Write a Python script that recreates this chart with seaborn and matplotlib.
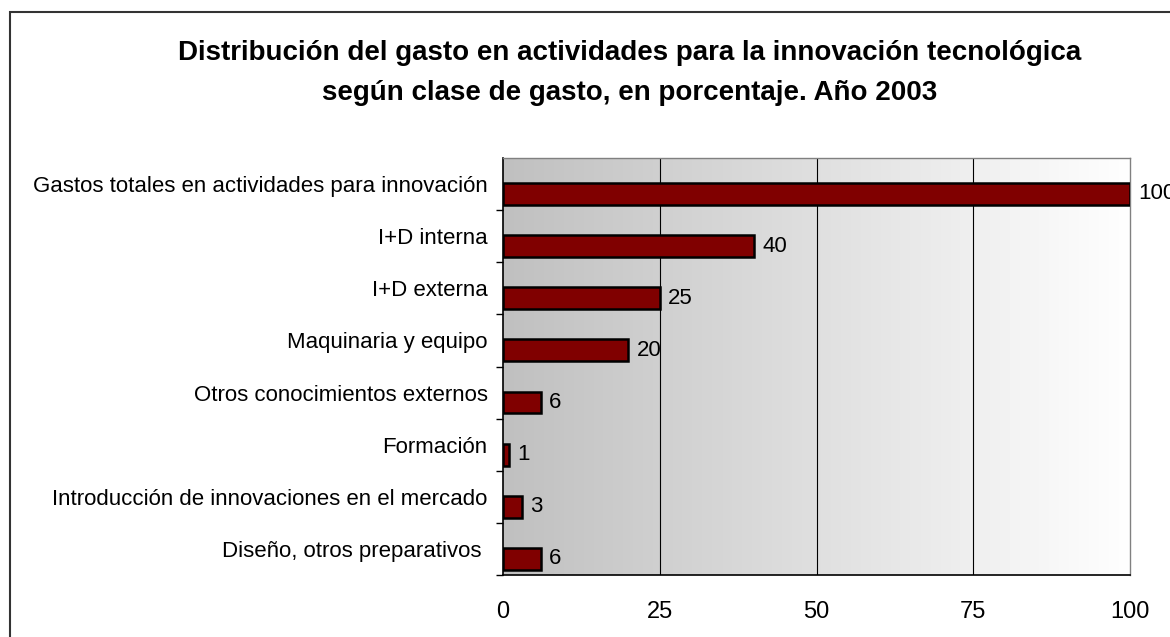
import numpy as np
import pandas as pd
import matplotlib.pyplot as plt
from matplotlib.patches import Rectangle
import seaborn as sns

# datos
categorias = [
    'Gastos totales en actividades para innovación',
    'I+D interna',
    'I+D externa',
    'Maquinaria y equipo',
    'Otros conocimientos externos',
    'Formación',
    'Introducción de innovaciones en el mercado',
    'Diseño, otros preparativos ',
]
porcentajes = [100, 40, 25, 20, 6, 1, 3, 6]
ticks_x = [0, 25, 50, 75, 100]
titulo_1 = 'Distribución del gasto en actividades para la innovación tecnológica'
titulo_2 = 'según clase de gasto, en porcentaje. Año 2003'

df = pd.DataFrame({'categoria': categorias, 'porcentaje': porcentajes})

# estilo
sns.set_theme(style='white')
plt.rcParams['font.family'] = ['Liberation Sans', 'DejaVu Sans']
plt.rcParams['text.color'] = 'black'
plt.rcParams['xtick.color'] = 'black'
plt.rcParams['ytick.color'] = 'black'

fig = plt.figure(figsize=(11.7, 6.37), dpi=100)
ax = fig.add_axes([503 / 1170, 1 - 575 / 637, 627 / 1170, 417 / 637])

sns.barplot(
    data=df, x='porcentaje', y='categoria', orient='h',
    color='#800000', edgecolor='black', linewidth=1.8,
    width=0.42, saturation=1, ax=ax, zorder=3
)

# fondo degradado
grad = np.linspace(0, 1, 256).reshape(1, -1)
ax.imshow(grad, cmap=sns.blend_palette(['#c0c0c0', '#ffffff'], as_cmap=True),
          extent=[0, 100, 7.31, -0.69], aspect='auto', zorder=0)

ax.set_xlim(0, 100)
ax.set_ylim(7.31, -0.69)

# lineas de rejilla verticales
for v in ticks_x[1:-1]:
    ax.axvline(v, color='black', lw=0.8, zorder=1)

# etiquetas de datos
for i, v in enumerate(porcentajes):
    ax.annotate(str(v), (v, i), xytext=(6, 0), textcoords='offset points',
                ha='left', va='center', fontsize=16, color='black',
                annotation_clip=False)

# ejes
ax.set_yticks([i - 0.19 for i in range(len(categorias))])
ax.set_yticklabels(categorias, fontsize=16)
ax.set_yticks([i + 0.31 for i in range(len(categorias))], minor=True)
ax.tick_params(axis='y', which='major', length=0, pad=11)
ax.tick_params(axis='y', which='minor', length=5, width=1, color='black', left=True)
ax.set_xticks(ticks_x)
ax.set_xticklabels([str(t) for t in ticks_x], fontsize=17)
ax.tick_params(axis='x', length=0, pad=19)
ax.set_xlabel('')
ax.set_ylabel('')

for s in ['left', 'bottom']:
    ax.spines[s].set_color('black')
    ax.spines[s].set_linewidth(1.2)
for s in ['top', 'right']:
    ax.spines[s].set_color('#808080')
    ax.spines[s].set_linewidth(1)

# titulo
fig.text(630 / 1170, 1 - 53 / 637, titulo_1, ha='center', va='center',
         fontsize=20, fontweight='bold')
fig.text(630 / 1170, 1 - 93 / 637, titulo_2, ha='center', va='center',
         fontsize=20, fontweight='bold')

# marco exterior
fig.patches.append(Rectangle((10 / 1170, -0.1), 1.2, 1.1 - 12 / 637,
                             transform=fig.transFigure, fill=False,
                             edgecolor='#333333', lw=1.5))

fig.savefig('out.png', dpi=100)
